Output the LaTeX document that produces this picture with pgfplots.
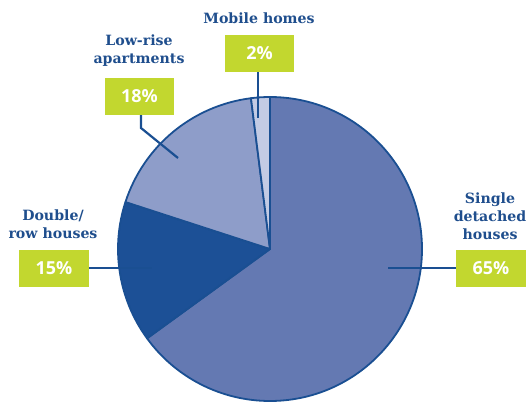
\documentclass[border=0pt]{standalone}
\usepackage{pgfplots}
\usepackage{pgfplotstable}
\pgfplotsset{compat=1.18}
\usepackage{fontspec}
\setmainfont{DejaVu Serif}
\newfontfamily\pctfont{Open Sans}
\definecolor{csingle}{RGB}{100,121,178}
\definecolor{cdouble}{RGB}{28,80,150}
\definecolor{clow}{RGB}{142,157,201}
\definecolor{cmobile}{RGB}{195,203,228}
\definecolor{pieedge}{RGB}{26,79,146}
\definecolor{boxgreen}{RGB}{194,215,47}
\definecolor{txtblue}{RGB}{31,78,141}
% slices clockwise from the top
\pgfplotstableread{
name   pct col
single 65  csingle
double 15  cdouble
low    18  clow
mobile 2   cmobile
}\piedata
\begin{document}
\begin{tikzpicture}
\begin{axis}[hide axis, scale only axis, width=526bp, height=402bp,
  xmin=0, xmax=526, ymin=0, ymax=402, y dir=reverse, clip=false]
\pgfplotsextra{
  \xdef\startang{90}
  \foreach \i in {0,...,3}{
    \pgfplotstablegetelem{\i}{pct}\of\piedata \let\slicepct\pgfplotsretval
    \pgfplotstablegetelem{\i}{col}\of\piedata \let\slicecol\pgfplotsretval
    \pgfmathsetmacro\endang{\startang-3.6*\slicepct}
    \filldraw[fill=\slicecol, draw=pieedge, line width=1.8bp, line join=round]
      (axis cs:270,249) -- ++(\startang:152bp)
      arc[start angle=\startang, end angle=\endang, radius=152bp] -- cycle;
    \xdef\startang{\endang}
  }
  % leader lines
  \draw[pieedge, line width=2.2bp] (axis cs:258,72) -- (axis cs:258,118);
  \draw[pieedge, line width=2.2bp] (axis cs:141,115) -- (axis cs:141,128) -- (axis cs:178,158);
  \draw[pieedge, line width=2.2bp] (axis cs:89,268) -- (axis cs:152,268);
  \draw[pieedge, line width=2.2bp] (axis cs:388,268) -- (axis cs:456,268);
  % boxes
  \fill[boxgreen] (axis cs:225,35) rectangle (axis cs:294,72);
  \fill[boxgreen] (axis cs:105,78) rectangle (axis cs:174,115);
  \fill[boxgreen] (axis cs:19,250) rectangle (axis cs:89,287);
  \fill[boxgreen] (axis cs:456,250) rectangle (axis cs:526,287);
  \tikzset{pct/.style={text=white, font=\pctfont\bfseries\fontsize{18}{20}\selectfont, inner sep=0pt},
           lab/.style={text=txtblue, font=\bfseries\fontsize{14.2}{18}\selectfont, align=center, inner sep=0pt}}
  \node[pct] at (axis cs:259.5,53.5) {2\%};
  \node[pct] at (axis cs:139.5,96.5) {18\%};
  \node[pct] at (axis cs:54,268.5) {15\%};
  \node[pct] at (axis cs:491,268.5) {65\%};
  \node[lab] at (axis cs:259,18) {Mobile homes};
  \node[lab] at (axis cs:139,51) {Low-rise\\apartments};
  \node[lab] at (axis cs:53,224) {Double/\\row houses};
  \node[lab] at (axis cs:490,216) {Single\\detached\\houses};
}
\end{axis}
\pgfresetboundingbox
\useasboundingbox (0,0) rectangle (526bp,402bp);
\end{tikzpicture}
\end{document}
